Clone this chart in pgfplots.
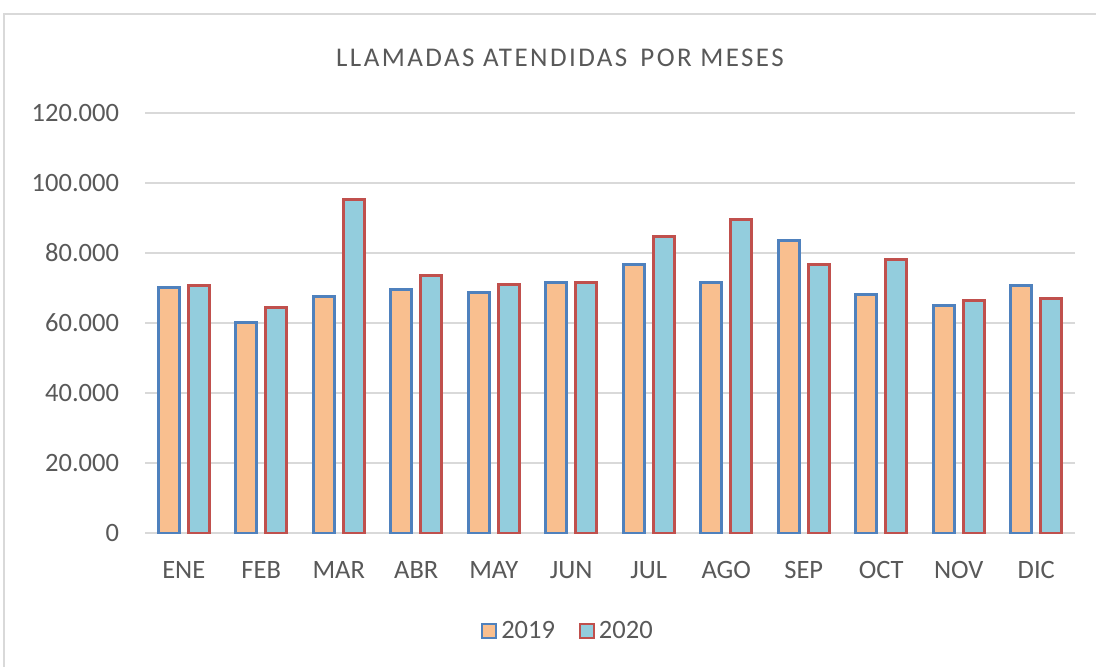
\documentclass[border=0pt]{standalone}
\usepackage{fontspec}
\setmainfont{Carlito}
\usepackage{pgfplots}
\pgfplotsset{compat=1.18}
\definecolor{txt}{HTML}{595959}
\definecolor{gridc}{HTML}{D9D9D9}
\definecolor{fillA}{HTML}{F9BF8F}
\definecolor{fillB}{HTML}{93CDDD}
\definecolor{lineA}{HTML}{4F81BD}
\definecolor{lineB}{HTML}{C0504D}
\begin{document}
\begin{tikzpicture}
\useasboundingbox (0,0) rectangle (548pt,333pt);
\fill[white] (0,0) rectangle (548pt,333pt);
\draw[gridc, line width=1pt] (2pt,-5pt) -- (2pt,326pt) -- (560pt,326pt);
\begin{axis}[
  at={(72.5pt,66.5pt)}, anchor=south west,
  width=465pt, height=210pt, scale only axis,
  ybar=4.5pt, bar width=10.5pt,
  xmin=-0.5, xmax=11.5, ymin=0, ymax=120000,
  xtick={0,...,11},
  xticklabels={ENE,FEB,MAR,ABR,MAY,JUN,JUL,AGO,SEP,OCT,NOV,DIC},
  ytick={0,20000,40000,60000,80000,100000,120000},
  scaled y ticks=false,
  /pgf/number format/fixed, /pgf/number format/1000 sep={.},
  /pgf/number format/assume math mode=true,
  yticklabel style={anchor=east, inner sep=0pt, xshift=-12.8pt},
  xticklabel style={anchor=north, inner sep=0pt, yshift=-13.8pt},
  ymajorgrids, grid style={gridc, line width=1pt},
  axis x line*=bottom, axis y line*=left,
  x axis line style={gridc, line width=1pt},
  y axis line style={draw=none},
  major tick length=0pt, tick style={draw=none},
  ticklabel style={font=\fontsize{13.25}{15}\selectfont, text=txt},
  legend style={at={(axis description cs:0.4559,-0.2333)}, anchor=center,
    draw=none, fill=none, legend columns=2,
    font=\fontsize{13.25}{15}\selectfont, text=txt,
    /tikz/every even column/.append style={column sep=10pt}},
]
\addplot[fill=fillA, draw=lineA, line width=1.5pt,
  legend image code/.code={\draw[fill=fillA, draw=lineA, line width=1pt] (-1.5pt,-3.5pt) rectangle (5.5pt,3.5pt);}]
  coordinates {(0,70200) (1,60200) (2,67700) (3,69700) (4,68600) (5,71500)
               (6,76600) (7,71500) (8,83600) (9,68100) (10,65100) (11,70700)};
\addplot[fill=fillB, draw=lineB, line width=1.5pt,
  legend image code/.code={\draw[fill=fillB, draw=lineB, line width=1pt] (-1.5pt,-3.5pt) rectangle (5.5pt,3.5pt);}]
  coordinates {(0,70700) (1,64400) (2,95400) (3,73600) (4,71100) (5,71500)
               (6,84600) (7,89500) (8,76700) (9,78200) (10,66500) (11,66900)};
\legend{2019,2020}
\end{axis}
\node[text=txt, font=\fontsize{13.5}{16}\selectfont\addfontfeatures{LetterSpace=9}, inner sep=0pt] at (280pt,304pt) {LLAMADAS ATENDIDAS\, POR MESES};
\end{tikzpicture}
\end{document}
